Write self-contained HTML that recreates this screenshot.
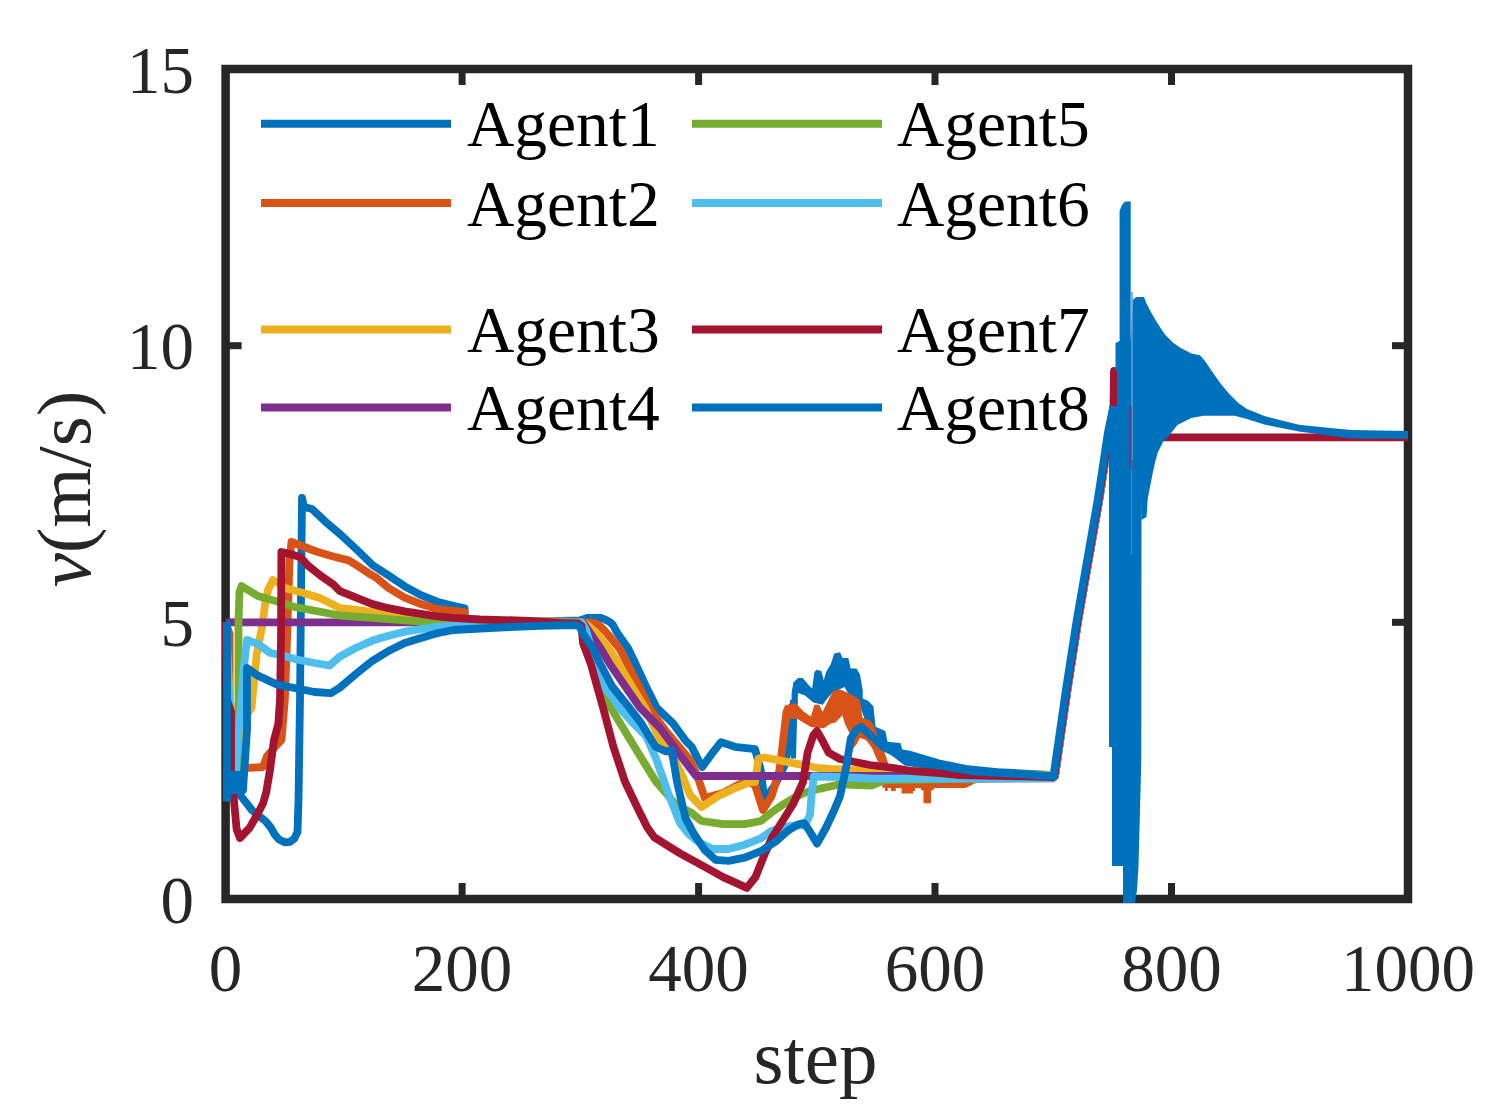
<!DOCTYPE html>
<html><head><meta charset="utf-8"><style>
html,body{margin:0;padding:0;background:#fff;}
svg{display:block;}
</style></head><body>
<svg width="1495" height="1112" viewBox="0 0 1495 1112" font-family="Liberation Serif">
<rect width="1495" height="1112" fill="#fff"/>
<g stroke="#262626" stroke-width="7"><line x1="462.1" y1="899.0" x2="462.1" y2="883.0"/>
<line x1="462.1" y1="69.0" x2="462.1" y2="85.0"/>
<line x1="698.6" y1="899.0" x2="698.6" y2="883.0"/>
<line x1="698.6" y1="69.0" x2="698.6" y2="85.0"/>
<line x1="935.0" y1="899.0" x2="935.0" y2="883.0"/>
<line x1="935.0" y1="69.0" x2="935.0" y2="85.0"/>
<line x1="1171.5" y1="899.0" x2="1171.5" y2="883.0"/>
<line x1="1171.5" y1="69.0" x2="1171.5" y2="85.0"/>
<line x1="225.6" y1="622.3" x2="241.6" y2="622.3"/>
<line x1="1408.0" y1="622.3" x2="1392.0" y2="622.3"/>
<line x1="225.6" y1="345.7" x2="241.6" y2="345.7"/>
<line x1="1408.0" y1="345.7" x2="1392.0" y2="345.7"/></g>
<rect x="225.6" y="69.0" width="1182.4" height="830.0" fill="none" stroke="#262626" stroke-width="8.5"/>
<clipPath id="clip"><rect x="221.6" y="65.0" width="1190.4" height="838.0"/></clipPath>
<g clip-path="url(#clip)">
<path d="M225.6 622.3 L227.0 624.0 L227.5 797.0 L236.0 791.0 L240.3 795.4 L246.8 803.5 L252.2 810.5 L260.3 817.0 L265.7 821.3 L271.0 827.8 L274.9 834.8 L279.2 839.6 L284.6 842.3 L290.0 841.8 L294.3 838.6 L297.5 832.0 L298.5 800.0 L300.0 700.0 L302.0 498.0 L304.0 507.0 L312.0 509.0 L324.3 520.7 L340.5 534.5 L356.6 549.5 L372.8 565.2 L389.0 575.8 L404.7 586.3 L420.9 595.2 L437.1 601.7 L453.3 605.8 L464.6 608.2 L464.6 623.0 L580.0 620.5 L588.0 617.8 L601.0 617.8 L605.0 619.5 L610.0 622.1 L613.0 625.0 L617.0 632.5 L628.2 648.5 L635.8 664.5 L646.0 686.5 L656.5 707.5 L673.0 723.4 L685.9 741.0 L691.7 746.8 L697.6 758.5 L702.2 767.0 L712.7 752.6 L721.0 742.1 L735.0 746.8 L755.0 749.1 L760.8 770.0 L764.0 797.0 L768.0 795.0 L775.0 785.0 L784.0 766.6 L788.8 746.8 L792.4 717.5 L794.0 700.0" stroke="#0072BD" stroke-width="7.8" fill="none" stroke-linejoin="round" stroke-linecap="butt"/>
<path d="M895.0 752.0 L908.9 754.5 L938.3 763.3 L967.7 769.2 L997.2 772.1 L1050.0 775.0 L1055.0 776.0 L1067.5 689.4 L1078.2 620.4 L1086.8 570.8 L1099.2 500.0 L1105.0 462.0 L1109.3 433.0 L1115.0 406.0" stroke="#0072BD" stroke-width="7.8" fill="none" stroke-linejoin="round" stroke-linecap="butt"/>
<path d="M791.0 758.6 L791.6 693.1 L793.4 682.6 L798.1 677.9 L802.7 677.9 L808.6 684.9 L812.1 688.5 L814.4 672.1 L816.8 669.7 L821.4 670.9 L823.8 680.3 L826.1 672.1 L830.8 663.9 L834.3 653.4 L840.1 652.2 L842.5 658.1 L848.3 658.1 L850.7 668.6 L856.5 668.6 L860.0 674.4 L862.7 690.0 L862.7 698.6 L868.0 700.8 L873.4 706.2 L875.6 726.7 L885.3 731.0 L887.5 741.8 L900.4 742.9 L902.6 750.4 L915.5 754.7 L931.7 759.0 L947.9 763.4 L960.0 765.5 L960.0 773.0 L926.3 768.7 L904.7 765.5 L895.0 758.0 L885.0 750.0 L876.0 742.0 L868.0 728.0 L862.0 712.0 L858.0 700.0 L850.0 696.0 L846.0 690.0 L844.8 687.0 L838.0 690.0 L832.0 693.0 L826.1 700.1 L822.6 704.8 L813.3 702.5 L805.0 695.5 L798.0 693.0 L797.0 720.0 L796.0 758.6Z" fill="#0072BD"/>
<path d="M225.6 622.3 L229.6 634.0 L229.6 700.0 L230.0 768.0 L247.0 768.0 L263.0 767.0 L267.0 756.0 L281.5 740.0 L284.8 700.0 L287.0 640.0 L289.5 560.0 L291.5 542.0 L300.6 545.5 L316.2 551.5 L332.4 556.3 L348.5 560.4 L356.6 565.2 L368.8 573.3 L376.9 578.2 L388.5 588.0 L404.7 597.7 L420.9 604.1 L437.1 609.0 L464.6 612.2 L464.6 622.0 L582.0 622.5 L595.0 623.0 L600.0 626.0 L606.3 632.5 L619.5 648.5 L627.7 664.5 L639.0 686.5 L649.0 707.5 L665.0 730.0 L680.0 748.0 L690.0 760.0 L697.0 775.0 L704.8 798.0 L723.0 793.0 L740.0 784.0 L748.0 782.0 L755.0 785.0 L763.0 810.0 L771.7 796.0 L779.5 770.0 L782.0 750.0 L786.5 712.0 L789.0 706.0" stroke="#D95319" stroke-width="7.8" fill="none" stroke-linejoin="round" stroke-linecap="butt"/>
<path d="M878.0 745.0 L884.0 763.0 L887.0 784.0 L965.0 784.0 L975.0 779.0 L1053.0 778.0 L1055.0 776.0 L1067.5 689.4 L1078.2 620.4 L1086.8 570.8 L1099.2 500.0 L1105.0 462.0 L1109.3 433.0 L1115.0 406.0" stroke="#D95319" stroke-width="7.8" fill="none" stroke-linejoin="round" stroke-linecap="butt"/>
<path d="M779.4 758.6 L785.2 711.8 L788.7 703.6 L795.7 703.6 L803.9 711.8 L810.9 716.5 L814.4 704.8 L819.1 704.8 L822.6 711.8 L826.1 704.8 L833.1 690.8 L840.1 689.6 L846.0 692.0 L854.2 696.0 L860.0 700.1 L862.4 717.7 L869.4 720.0 L872.9 723.5 L878.0 736.0 L884.2 762.0 L878.0 762.0 L872.0 748.0 L866.0 740.0 L860.0 738.0 L856.0 745.0 L852.0 750.0 L849.5 733.0 L846.0 726.0 L844.8 723.5 L842.5 715.3 L835.5 722.4 L830.8 723.5 L823.8 728.2 L810.9 727.0 L796.9 718.8 L789.9 718.8 L787.0 735.0 L784.0 758.6Z" fill="#D95319"/>
<path d="M882.3 783.0 L882.3 787.7 L885.0 787.7 L885.0 790.9 L887.7 790.9 L887.7 787.7 L890.9 787.7 L890.9 790.9 L895.7 790.9 L895.7 787.7 L901.6 787.7 L901.6 793.5 L913.0 793.5 L913.0 791.0 L915.0 791.0 L915.0 785.5 L918.5 785.5 L918.5 787.0 L920.8 787.0 L920.8 790.3 L923.5 790.3 L923.5 803.2 L931.0 803.2 L931.0 790.3 L933.7 790.3 L933.7 783.0Z" fill="#D95319"/>
<path d="M225.6 622.3 L230.0 700.0 L236.0 758.0 L244.0 760.0 L246.0 716.0 L251.5 708.0 L256.7 654.0 L262.0 627.0 L265.3 603.0 L268.0 590.0 L272.9 580.0 L278.0 583.0 L285.5 588.3 L300.0 592.0 L320.0 598.0 L340.0 608.2 L356.2 609.8 L372.4 612.2 L388.5 613.9 L404.7 617.0 L464.6 620.0 L582.0 622.0 L587.0 624.5 L595.7 632.5 L609.0 648.5 L618.9 664.5 L632.0 686.5 L645.0 708.0 L660.0 740.0 L672.0 755.0 L682.0 775.0 L690.0 795.0 L701.6 807.0 L717.8 796.2 L734.0 788.6 L750.0 782.2 L755.0 781.8 L758.5 758.5 L764.3 757.5 L781.8 760.8 L799.4 764.3 L816.9 767.8 L830.0 769.0 L860.0 770.5 L900.0 773.0 L1053.0 775.0 L1055.0 776.0 L1067.5 689.4 L1078.2 620.4 L1086.8 570.8 L1099.2 500.0 L1105.0 462.0 L1109.3 433.0 L1115.0 406.0" stroke="#EDB120" stroke-width="7.8" fill="none" stroke-linejoin="round" stroke-linecap="butt"/>
<path d="M225.6 622.3 L582.0 622.3 L583.0 622.5 L589.7 632.5 L600.7 648.5 L610.2 664.5 L625.3 686.5 L639.9 707.5 L660.0 728.0 L680.0 755.0 L696.0 776.0 L1053.0 776.0 L1055.0 776.0 L1067.5 689.4 L1078.2 620.4 L1086.8 570.8 L1099.2 500.0 L1105.0 462.0 L1109.3 433.0 L1115.0 406.0" stroke="#7E2F8E" stroke-width="7.8" fill="none" stroke-linejoin="round" stroke-linecap="butt"/>
<path d="M225.6 622.3 L229.0 700.0 L233.0 770.0 L237.0 770.0 L238.5 700.0 L238.5 620.0 L239.5 592.0 L241.5 586.0 L257.8 596.0 L275.4 601.0 L295.6 607.2 L340.0 615.5 L372.4 617.9 L404.7 620.3 L437.1 622.8 L582.0 622.5 L586.0 630.0 L590.0 650.0 L596.0 670.0 L602.0 686.5 L610.6 707.5 L634.4 746.8 L656.0 781.8 L676.5 805.2 L690.8 812.4 L701.6 821.0 L723.1 824.2 L744.7 824.2 L760.9 821.0 L771.7 812.4 L782.5 804.8 L793.3 798.3 L804.0 793.0 L820.2 788.6 L840.0 784.3 L872.0 785.5 L885.0 780.0 L950.0 779.0 L1053.0 777.0 L1055.0 776.0 L1067.5 689.4 L1078.2 620.4 L1086.8 570.8 L1099.2 500.0 L1105.0 462.0 L1109.3 433.0 L1115.0 406.0" stroke="#77AC30" stroke-width="7.8" fill="none" stroke-linejoin="round" stroke-linecap="butt"/>
<path d="M225.6 622.3 L229.0 700.0 L233.0 777.0 L236.0 777.0 L237.0 750.0 L241.5 700.0 L243.5 670.0 L247.0 640.0 L257.8 644.0 L270.4 653.0 L283.0 655.4 L295.6 659.2 L314.5 663.0 L329.6 665.5 L339.6 656.7 L356.2 647.8 L372.4 640.6 L388.5 635.7 L404.7 631.7 L420.9 629.2 L437.1 626.8 L453.3 626.0 L505.0 622.0 L582.0 623.0 L586.0 630.0 L592.0 650.0 L598.0 670.0 L604.0 686.5 L614.6 700.0 L618.9 707.5 L632.0 722.0 L640.0 730.0 L646.0 736.0 L650.0 745.0 L656.0 758.5 L668.3 793.5 L680.0 823.0 L688.6 834.0 L699.4 842.6 L712.4 849.0 L728.5 849.0 L744.7 844.7 L760.9 838.3 L771.7 830.7 L790.0 826.0 L805.0 825.0 L810.0 815.0 L812.0 790.0 L814.0 776.5 L840.0 777.0 L870.0 778.5 L1053.0 778.7 L1055.0 776.0 L1067.5 689.4 L1078.2 620.4 L1086.8 570.8 L1099.2 500.0 L1105.0 462.0 L1109.3 433.0 L1115.0 406.0" stroke="#4DBEEE" stroke-width="7.8" fill="none" stroke-linejoin="round" stroke-linecap="butt"/>
<path d="M225.6 622.3 L227.0 700.0 L231.0 712.0 L231.0 771.0 L233.0 790.0 L236.6 829.0 L240.0 838.0 L249.5 828.0 L257.6 814.0 L263.0 803.5 L266.2 792.7 L270.0 770.0 L274.0 740.0 L278.3 724.0 L280.0 700.0 L281.0 640.0 L281.4 552.0 L290.0 554.0 L300.0 557.0 L308.0 565.6 L320.8 575.7 L333.4 584.5 L340.0 591.2 L356.2 597.7 L372.4 604.1 L388.5 608.2 L404.7 611.4 L420.9 613.9 L437.1 616.3 L453.3 617.9 L480.0 619.5 L530.0 620.8 L560.0 622.8 L578.0 623.5 L581.5 626.0 L583.0 643.0 L585.1 648.5 L591.0 664.5 L597.1 686.5 L603.0 707.5 L613.4 746.8 L625.0 781.8 L639.0 811.0 L647.3 827.4 L654.4 837.4 L680.0 853.4 L701.6 865.2 L723.1 877.1 L746.9 887.9 L755.5 877.0 L764.1 855.5 L771.7 838.3 L782.5 821.0 L793.3 803.7 L803.0 782.2 L807.6 752.6 L813.4 735.0 L816.9 731.0 L822.7 741.0 L828.6 752.6 L840.0 759.0 L870.0 765.0 L894.0 768.0 L912.0 771.0 L940.0 773.0 L960.0 775.0 L1053.0 777.0 L1054.5 776.0 L1067.0 689.4 L1077.7 620.4 L1086.3 570.8 L1098.7 500.0 L1104.5 462.0 L1108.8 433.0 L1113.5 406.0 L1114.0 371.0 L1116.0 400.0 L1140.0 437.0 L1163.0 437.3 L1408.0 437.3" stroke="#A2142F" stroke-width="7.8" fill="none" stroke-linejoin="round" stroke-linecap="butt"/>
<path d="M225.6 622.3 L227.0 624.0 L227.0 790.0 L243.0 790.0 L247.0 730.0 L247.0 668.0 L257.8 675.6 L276.7 684.4 L295.6 688.2 L314.5 692.0 L330.8 693.2 L340.0 687.5 L356.2 673.7 L372.4 660.8 L388.5 651.0 L404.7 643.0 L420.9 638.1 L437.1 633.3 L453.3 630.0 L480.0 628.5 L510.0 627.0 L540.0 625.8 L576.0 625.0 L580.0 627.0 L582.4 632.5 L592.8 648.5 L600.6 664.5 L612.2 686.5 L629.1 707.5 L641.4 723.4 L655.5 746.8 L666.0 751.4 L671.8 750.3 L677.0 781.8 L685.4 817.8 L694.0 834.0 L704.8 850.1 L715.6 859.8 L728.5 860.9 L744.7 857.7 L760.9 851.2 L777.1 840.4 L787.9 830.7 L798.7 824.2 L804.0 823.1 L809.4 830.7 L817.0 843.6 L825.6 828.5 L833.2 812.4 L840.0 796.2 L846.5 765.5 L850.8 738.5 L856.2 730.0 L861.0 727.0 L872.4 737.0 L883.1 747.0 L900.0 755.0 L930.0 764.0 L970.0 771.0 L1050.0 776.0 L1053.5 776.0 L1066.0 689.4 L1076.7 620.4 L1085.3 570.8 L1097.7 500.0 L1103.5 462.0 L1107.8 433.0 L1113.5 406.0" stroke="#0072BD" stroke-width="7.8" fill="none" stroke-linejoin="round" stroke-linecap="butt"/>
<path d="M223.0 771.0 L247.0 771.0 L247.0 790.0 L240.0 792.0 L231.0 795.0 L231.0 801.5 L223.0 801.5Z" fill="#0072BD"/>
<path d="M1109.0 420.0 L1109.0 747.0 L1112.0 747.0 L1112.0 866.0 L1123.0 866.0 L1123.0 903.0 L1135.0 903.0 L1137.0 890.0 L1138.5 866.0 L1140.0 810.0 L1141.3 760.0 L1141.5 520.0 L1141.5 300.0 L1136.5 297.0 L1132.8 300.0 L1130.7 341.0 L1130.7 201.5 L1126.0 201.5 L1124.0 202.5 L1121.5 206.0 L1119.6 211.0 L1119.6 341.0 L1115.5 343.0 L1115.5 371.0 L1117.0 371.0 L1117.0 406.0 L1109.0 406.0Z" fill="#0072BD"/>
<path d="M1133.0 300.0 L1136.5 297.0 L1144.0 297.0 L1146.5 303.4 L1152.0 314.0 L1157.3 323.0 L1164.5 334.0 L1173.5 343.0 L1180.0 347.4 L1191.3 353.5 L1200.0 355.2 L1205.2 361.3 L1212.2 371.7 L1220.9 383.9 L1229.6 394.3 L1238.3 403.0 L1247.0 409.1 L1264.3 416.1 L1281.7 420.4 L1299.0 424.8 L1325.2 427.4 L1351.3 430.0 L1408.0 431.0 L1408.0 438.7 L1351.0 438.5 L1299.0 431.5 L1264.3 424.5 L1247.0 419.0 L1234.8 415.8 L1203.5 415.8 L1191.3 418.0 L1177.4 425.0 L1168.7 436.0 L1163.0 442.0 L1158.0 452.0 L1155.3 461.5 L1152.8 472.8 L1150.3 485.4 L1147.8 498.0 L1146.5 517.0 L1141.5 520.0Z" fill="#0072BD"/>
<path d="M1132.0 292.0 L1132.0 460.0" stroke="#5A9FD6" stroke-width="1.6" fill="none" stroke-linejoin="round" stroke-linecap="butt"/>
<path d="M1131.5 460.0 L1131.5 555.0" stroke="#2F8ACD" stroke-width="1.4" fill="none" stroke-linejoin="round" stroke-linecap="butt"/>
<path d="M1130.3 406.0 L1130.3 469.0" stroke="#6A3D78" stroke-width="2.6" fill="none" stroke-linejoin="round" stroke-linecap="butt"/>
</g>
<g font-size="67" fill="#262626"><text x="225.6" y="990.5" text-anchor="middle">0</text>
<text x="462.1" y="990.5" text-anchor="middle">200</text>
<text x="698.6" y="990.5" text-anchor="middle">400</text>
<text x="935.0" y="990.5" text-anchor="middle">600</text>
<text x="1171.5" y="990.5" text-anchor="middle">800</text>
<text x="1408.0" y="990.5" text-anchor="middle">1000</text>
<text x="194" y="922.5" text-anchor="end">0</text>
<text x="194" y="645.8" text-anchor="end">5</text>
<text x="194" y="369.2" text-anchor="end">10</text>
<text x="194" y="92.5" text-anchor="end">15</text></g>
<g font-size="65.5" fill="#000"><line x1="261.0" y1="123.8" x2="451.0" y2="123.8" stroke="#0072BD" stroke-width="8"/>
<text x="467.0" y="146.3">Agent1</text>
<line x1="692.0" y1="123.8" x2="882.0" y2="123.8" stroke="#77AC30" stroke-width="8"/>
<text x="897.0" y="146.3">Agent5</text>
<line x1="261.0" y1="203.0" x2="451.0" y2="203.0" stroke="#D95319" stroke-width="8"/>
<text x="467.0" y="225.5">Agent2</text>
<line x1="692.0" y1="203.0" x2="882.0" y2="203.0" stroke="#4DBEEE" stroke-width="8"/>
<text x="897.0" y="225.5">Agent6</text>
<line x1="261.0" y1="329.5" x2="451.0" y2="329.5" stroke="#EDB120" stroke-width="8"/>
<text x="467.0" y="352.0">Agent3</text>
<line x1="692.0" y1="329.5" x2="882.0" y2="329.5" stroke="#A2142F" stroke-width="8"/>
<text x="897.0" y="352.0">Agent7</text>
<line x1="261.0" y1="407.4" x2="451.0" y2="407.4" stroke="#7E2F8E" stroke-width="8"/>
<text x="467.0" y="429.9">Agent4</text>
<line x1="692.0" y1="407.4" x2="882.0" y2="407.4" stroke="#0072BD" stroke-width="8"/>
<text x="897.0" y="429.9">Agent8</text></g>
<text x="815.5" y="1083" font-size="77" fill="#262626" text-anchor="middle">step</text>
<text transform="translate(90,489) rotate(-90)" font-size="77" fill="#262626" text-anchor="middle"><tspan font-style="italic">v</tspan>(m/s)</text>
</svg>
</body></html>
